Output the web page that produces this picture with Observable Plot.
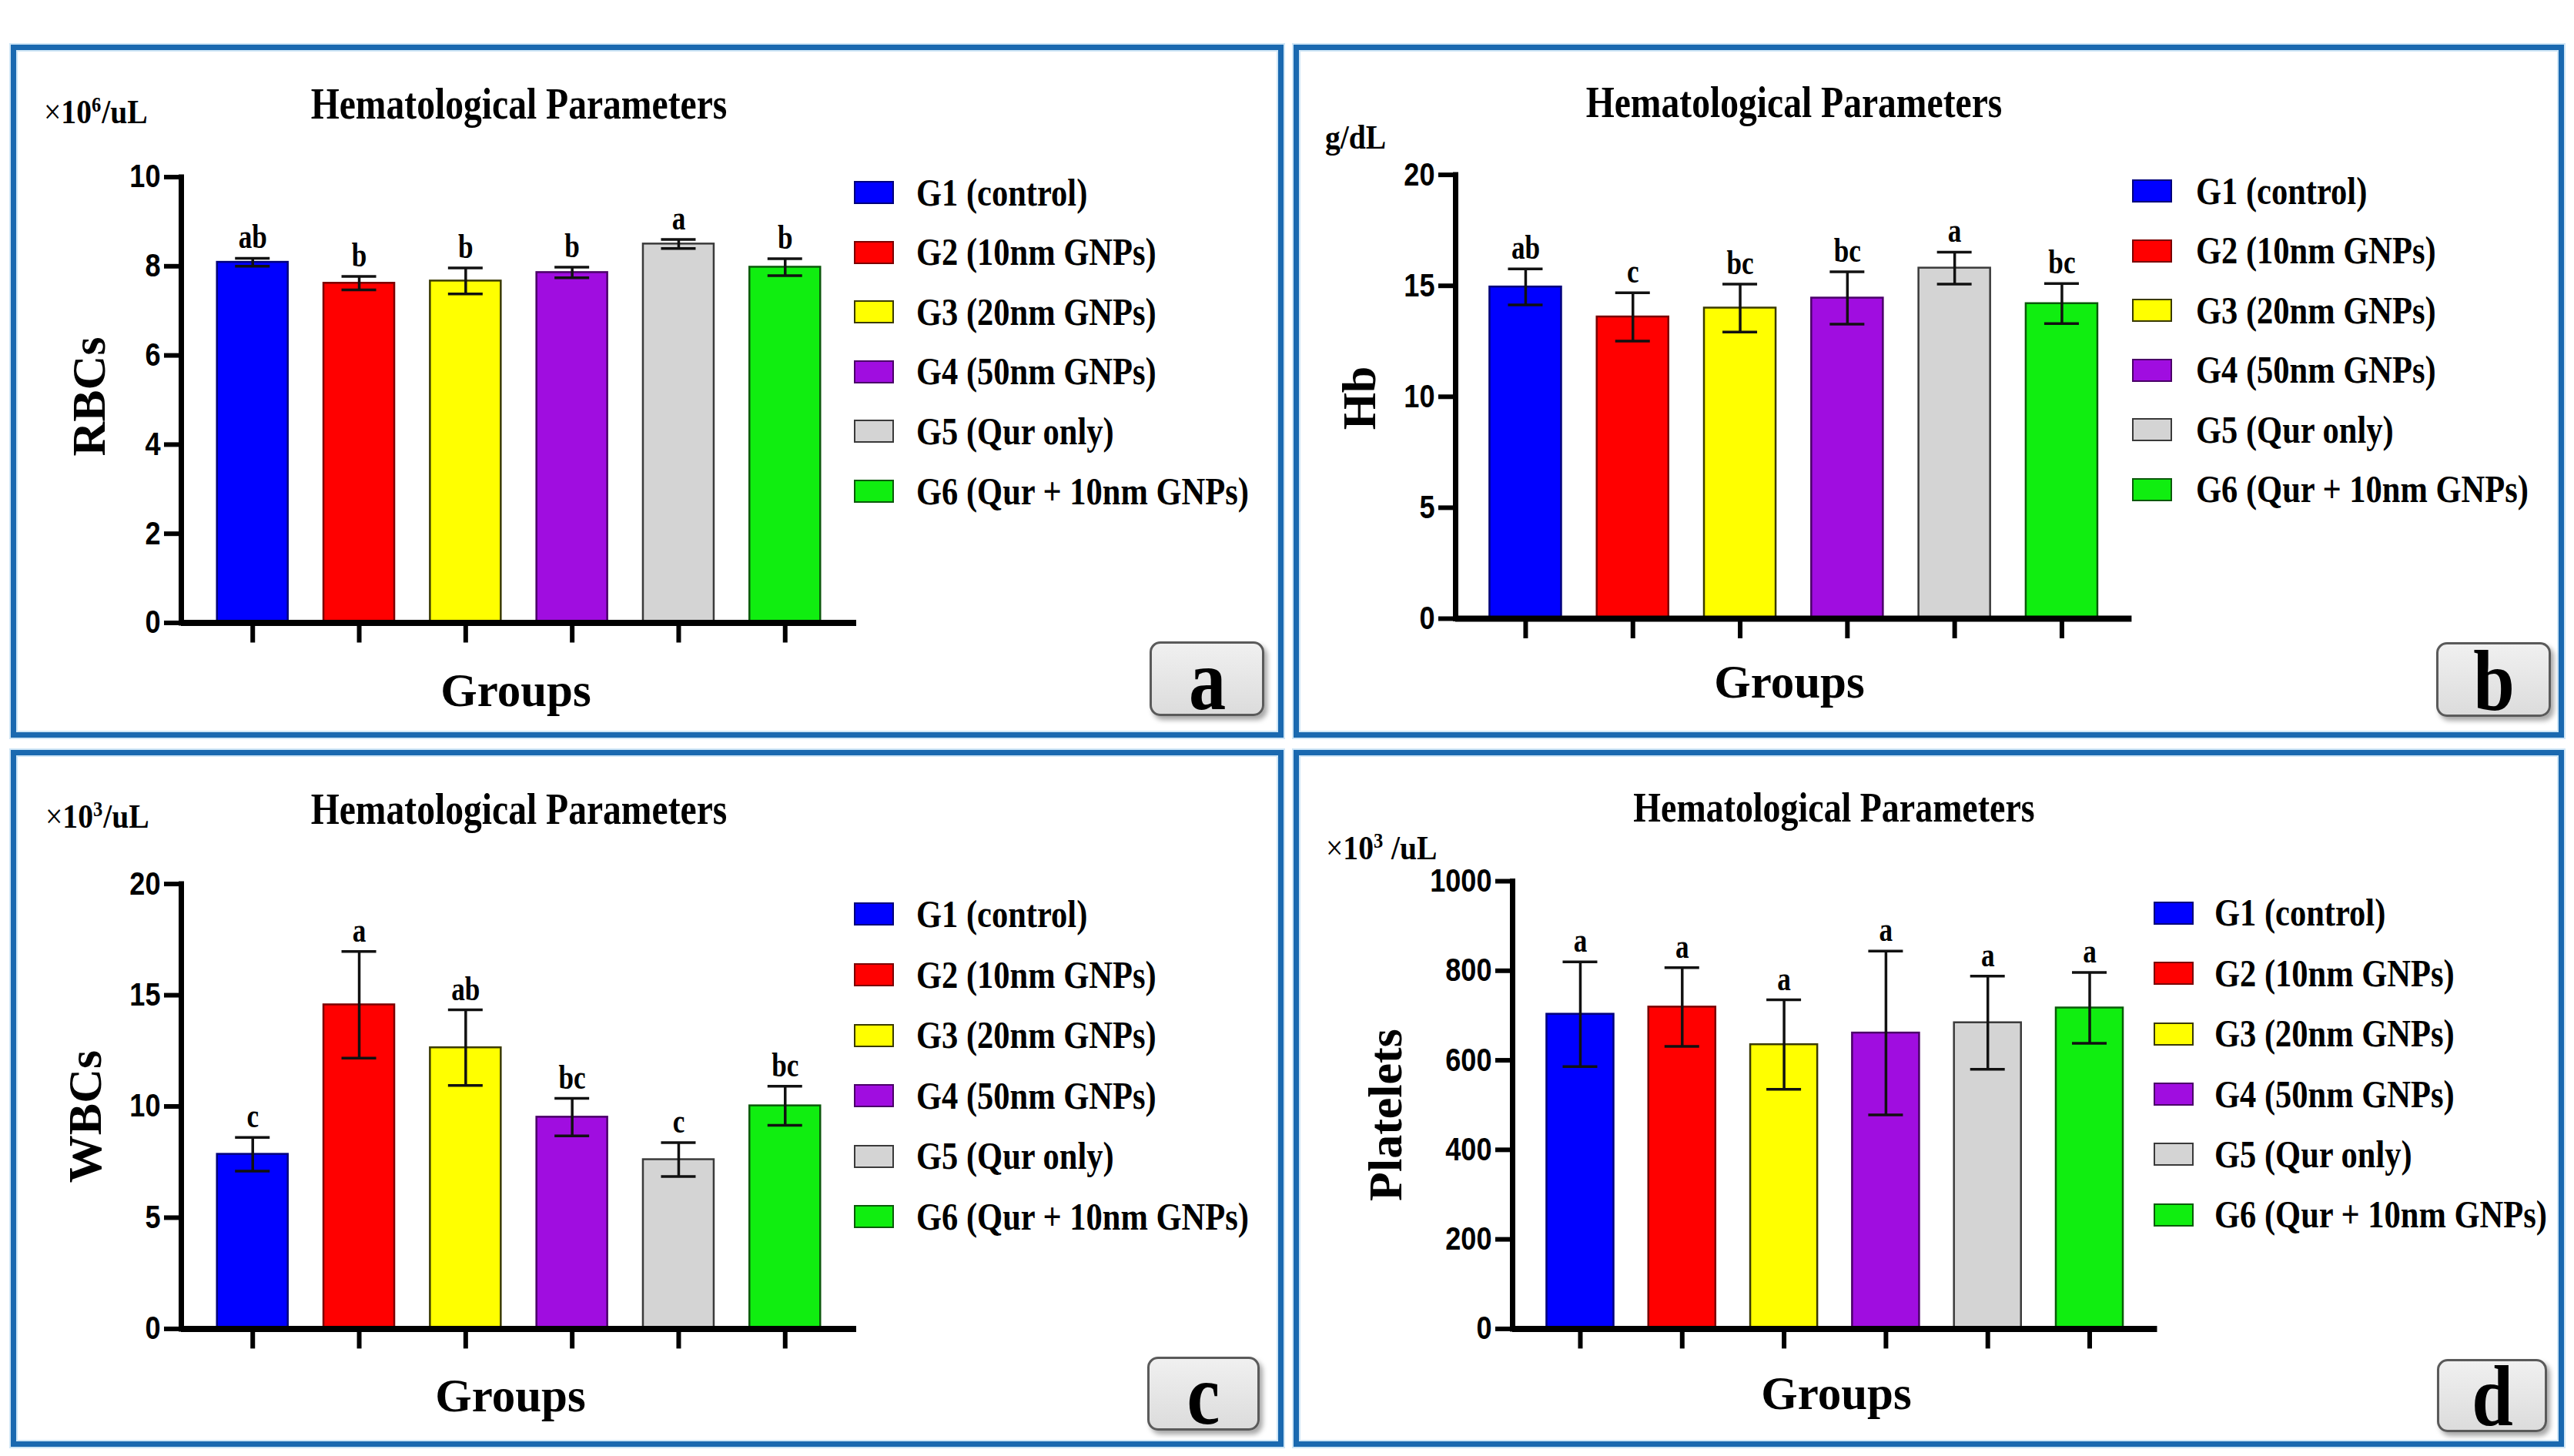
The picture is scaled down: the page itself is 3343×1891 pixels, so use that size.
<!DOCTYPE html>
<html><head><meta charset="utf-8">
<script src="https://cdn.jsdelivr.net/npm/d3@7"></script>
<script src="https://cdn.jsdelivr.net/npm/@observablehq/plot@0.6"></script>
<style>
html,body{margin:0;padding:0;background:#fff;}
#page{position:relative;width:3343px;height:1891px;overflow:hidden;background:#fff;}
.panel{position:absolute;}
.border{position:absolute;left:0;top:0;right:0;bottom:0;border:7px solid #1a69b0;box-sizing:border-box;box-shadow:0 0 0 2px #cfe6f6, inset 0 0 0 2px #cfe6f6;pointer-events:none;}
.panel svg{position:absolute;left:0;top:0;}
.t{position:absolute;white-space:nowrap;line-height:1;color:#000;font-family:"Liberation Serif","Times New Roman",Times,serif;font-weight:700;}
.t sup{font-size:0.62em;position:relative;top:-0.55em;vertical-align:baseline;line-height:0;margin-right:0.04em;}
.t .x{font-weight:400;}
.sw{position:absolute;box-sizing:border-box;border:2px solid #000;}
.badge{position:absolute;box-sizing:border-box;border:3px solid #5a5a5a;border-radius:14px;background:linear-gradient(#f0f0f0,#dcdcdc);box-shadow:4px 5px 6px rgba(0,0,0,.35);}
</style></head><body><div id="page"></div><script>
// ---------- data ----------
const groups = ["G1 (control)","G2 (10nm GNPs)","G3 (20nm GNPs)","G4 (50nm GNPs)","G5 (Qur only)","G6 (Qur + 10nm GNPs)"];
const fills = ["#0000ff","#ff0000","#ffff00","#a00de0","#d4d4d4","#10ee10"];
const edges = ["#00007a","#7a0000","#3a3a00","#4a0068","#3a3a3a","#0a5a0a"];

const rbcMean = [8.09, 7.62, 7.67, 7.86, 8.50, 7.98];
const rbcSD   = [0.09, 0.15, 0.29, 0.12, 0.10, 0.19];
const rbcLetters = ["ab","b","b","b","a","b"];
const rbcTicks = [0,2,4,6,8,10];

const hbMean = [14.95, 13.6, 14.0, 14.45, 15.8, 14.2];
const hbSD   = [0.81, 1.09, 1.08, 1.18, 0.72, 0.90];
const hbLetters = ["ab","c","bc","bc","a","bc"];
const hbTicks = [0,5,10,15,20];

const wbcMean = [7.85, 14.57, 12.64, 9.52, 7.61, 10.03];
const wbcSD   = [0.76, 2.40, 1.70, 0.84, 0.76, 0.88];
const wbcLetters = ["c","a","ab","bc","c","bc"];
const wbcTicks = [0,5,10,15,20];

const pltMean = [703, 719, 635, 661, 684, 717];
const pltSD   = [117, 88, 100, 183, 104, 79];
const pltLetters = ["a","a","a","a","a","a"];
const pltTicks = [0,200,400,600,800,1000];

const titleText = "Hematological Parameters";
const xLabel = "Groups";

// ---------- layout ----------
const SERIF = '"Liberation Serif","Times New Roman",Times,serif';
const SANS = '"Liberation Sans",Arial,Helvetica,sans-serif';

const panels = [
 {badgeText:"a", left:14, top:58, w:1653, h:900, L:221, R:1098, yT:171.5, yB:750.5, pi:0.335, po:0.338,
  mean:rbcMean, sd:rbcSD, letters:rbcLetters, ticks:rbcTicks, domain:[0,10],
  units:'<span class="x">×</span>10<sup>6</sup>/uL', ux:43, uy:103,
  tx:660, ty:96, tsize:56, ylab:"RBCs", yx:101, yy:457, gx:656, gy:859,
  lx:1095, ly:192, ld:77.6, ltx:1176, bx:1479, by:775, bw:149, bh:97},
 {badgeText:"b", left:1680, top:58, w:1650, h:900, L:210, R:1088.4, yT:168.6, yB:745, pi:0.332, po:0.319,
  mean:hbMean, sd:hbSD, letters:hbLetters, ticks:hbTicks, domain:[0,20],
  units:'g/dL', ux:41, uy:136,
  tx:650, ty:94, tsize:56, ylab:"Hb", yx:85, yy:459, gx:644, gy:848,
  lx:1089, ly:190, ld:77.5, ltx:1172, bx:1484, by:776, bw:149, bh:97},
 {badgeText:"c", left:14, top:974, w:1653, h:905, L:221, R:1098, yT:173.6, yB:751.4, pi:0.335, po:0.338,
  mean:wbcMean, sd:wbcSD, letters:wbcLetters, ticks:wbcTicks, domain:[0,20],
  units:'<span class="x">×</span>10<sup>3</sup>/uL', ux:45, uy:102,
  tx:660, ty:96, tsize:56, ylab:"WBCs", yx:96, yy:476, gx:649, gy:859,
  lx:1095, ly:213.4, ld:78.6, ltx:1176, bx:1476, by:788, bw:146, bh:96},
 {badgeText:"d", left:1680, top:974, w:1650, h:905, L:284, R:1121.5, yT:170, yB:751.4, pi:0.342, po:0.336,
  mean:pltMean, sd:pltSD, letters:pltLetters, ticks:pltTicks, domain:[0,1000],
  units:'<span class="x">×</span>10<sup>3</sup> /uL', ux:42, uy:143,
  tx:702, ty:93, tsize:54, ylab:"Platelets", yx:119, yy:474, gx:705, gy:856,
  lx:1117, ly:211.7, ld:78.4, ltx:1196, bx:1485, by:791, bw:143, bh:95}
];

const page = document.getElementById("page");

function condense(svg, selector, s) {
  svg.querySelectorAll(selector).forEach(t => {
    const x = +(t.getAttribute("x") || 0);
    const tr = t.getAttribute("transform") || "";
    t.setAttribute("transform", `${tr} translate(${x},0) scale(${s},1) translate(${-x},0)`);
  });
}

function addText(parent, html, opts) {
  const d = document.createElement("div");
  d.className = "t";
  d.innerHTML = html;
  const size = opts.size;
  d.style.fontSize = size + "px";
  if (opts.rotate) {
    d.style.left = opts.x + "px";
    d.style.top = opts.y + "px";
    d.style.transform = `translate(-50%,-50%) rotate(-90deg) scaleX(${opts.sx || 1})`;
  } else {
    d.style.top = (opts.y - 0.8375 * size) + "px";
    d.style.left = opts.x + "px";
    if (opts.anchor === "middle") {
      d.style.transformOrigin = "50% 50%";
      d.style.transform = `translateX(-50%) scaleX(${opts.sx || 1})`;
    } else {
      d.style.transformOrigin = "0 50%";
      d.style.transform = `scaleX(${opts.sx || 1})`;
    }
  }
  parent.appendChild(d);
  return d;
}

for (const P of panels) {
  const div = document.createElement("div");
  div.className = "panel";
  Object.assign(div.style, {left: P.left + "px", top: P.top + "px", width: P.w + "px", height: P.h + "px"});
  page.appendChild(div);

  const rows = groups.map((g, i) => ({group: g, value: P.mean[i], sd: P.sd[i], letter: P.letters[i], fill: fills[i], edge: edges[i]}));
  const n = groups.length;
  const step = (P.R - P.L) / (n - P.pi + 2 * P.po);
  const band = step * (1 - P.pi);
  const capInset = Math.max(0, (band - 45) / 2);

  const svg = Plot.plot({
    width: P.w, height: P.h,
    marginLeft: P.L, marginRight: P.w - P.R, marginTop: P.yT, marginBottom: P.h - P.yB,
    style: {background: "transparent", overflow: "visible"},
    x: {type: "band", domain: groups, paddingInner: P.pi, paddingOuter: P.po, align: 0.5, round: false},
    y: {domain: P.domain},
    color: {type: "identity"},
    marks: [
      Plot.barY(rows, {x: "group", y: "value", fill: "fill", stroke: "edge", strokeWidth: 2.5}),
      Plot.ruleX(rows, {x: "group", y1: d => d.value - d.sd, y2: d => d.value + d.sd, stroke: "#111", strokeWidth: 3.5}),
      Plot.tickY(rows, {x: "group", y: d => d.value + d.sd, insetLeft: capInset, insetRight: capInset, stroke: "#111", strokeWidth: 3.5}),
      Plot.tickY(rows, {x: "group", y: d => d.value - d.sd, insetLeft: capInset, insetRight: capInset, stroke: "#111", strokeWidth: 3.5}),
      Plot.text(rows, {x: "group", y: d => d.value + d.sd, text: "letter", dy: -13, lineAnchor: "bottom",
        fontSize: 44, fontWeight: 700, fontFamily: SERIF, fill: "#000"}),
      Plot.ruleY([0], {stroke: "#000", strokeWidth: 8}),
      Plot.frame({anchor: "left", stroke: "#000", strokeWidth: 7}),
      Plot.axisY(P.ticks, {anchor: "left", tickSize: 22, tickPadding: 5, strokeWidth: 6, fontSize: 42, fontWeight: 700,
        fontFamily: SANS, label: null, tickFormat: d => String(d), color: "#000"}),
      Plot.axisX({anchor: "bottom", tickSize: 26, strokeWidth: 6, tickFormat: () => "", label: null, color: "#000"})
    ]
  });
  condense(svg, 'g[aria-label="text"] text', 0.8);
  condense(svg, 'g[aria-label^="y-axis tick label"] text', 0.86);
  div.appendChild(svg);

  const border = document.createElement("div");
  border.className = "border";
  div.appendChild(border);

  // title, units, axis labels
  addText(div, titleText, {x: P.tx, y: P.ty, size: P.tsize, anchor: "middle", sx: 0.85});
  addText(div, P.units, {x: P.ux, y: P.uy, size: 44, sx: 0.9});
  addText(div, P.ylab, {x: P.yx, y: P.yy, size: 62, rotate: true});
  addText(div, xLabel, {x: P.gx, y: P.gy, size: 61, anchor: "middle"});

  // legend
  groups.forEach((g, i) => {
    const cy = P.ly + i * P.ld;
    const sw = document.createElement("div");
    sw.className = "sw";
    Object.assign(sw.style, {left: P.lx + "px", top: (cy - 15) + "px", width: "52px", height: "30px", background: fills[i], borderColor: edges[i]});
    div.appendChild(sw);
    addText(div, g, {x: P.ltx, y: cy + 16.5, size: 50, sx: 0.85});
  });

  // badge
  const b = document.createElement("div");
  b.className = "badge";
  Object.assign(b.style, {left: P.bx + "px", top: P.by + "px", width: P.bw + "px", height: P.bh + "px"});
  div.appendChild(b);
  addText(b, P.badgeText, {x: P.bw / 2 - 3, y: P.bh * 0.9 - 3, size: 112, anchor: "middle", sx: 0.86});
}
</script></body></html>
